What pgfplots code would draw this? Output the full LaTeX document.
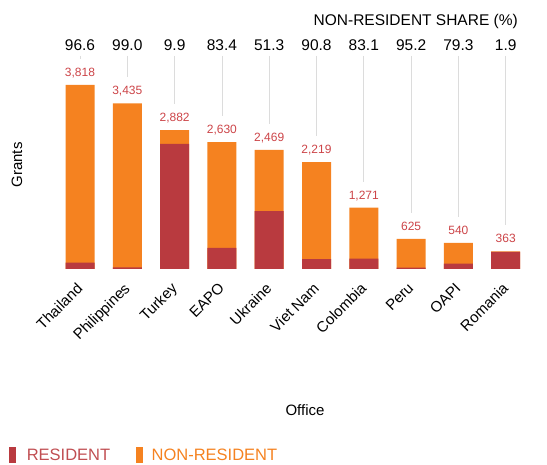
\documentclass[border=0pt]{standalone}
\usepackage{pgfplots}
\pgfplotsset{compat=1.18}
\usepackage{pgfplotstable}
\usepackage{fontspec}
\setmainfont{Liberation Sans}
\definecolor{cres}{RGB}{185,58,63}
\definecolor{cnon}{RGB}{245,130,32}
\definecolor{clab}{RGB}{204,68,72}
\definecolor{cline}{RGB}{220,220,220}

\pgfplotstableread{
x total resident totlab share
0 3818 130 3,818 96.6
1 3435 34 3,435 99.0
2 2882 2597 2,882 9.9
3 2630 437 2,630 83.4
4 2469 1202 2,469 51.3
5 2219 204 2,219 90.8
6 1271 215 1,271 83.1
7 625 30 625 95.2
8 540 112 540 79.3
9 363 356 363 1.9
}\datatable

\begin{document}
\begin{tikzpicture}
\begin{axis}[
  at={(80pt,196pt)}, anchor=origin,
  scale only axis, width=473pt, height=241pt,
  xmin=-0.5, xmax=9.5, ymin=0, ymax=5000,
  clip=false,
  axis line style={draw=none},
  major tick length=0pt,
  ytick=\empty,
  xtick={0,...,9},
  xticklabels={Thailand,Philippines,Turkey,EAPO,Ukraine,{Viet Nam},Colombia,Peru,OAPI,Romania},
  xticklabel style={rotate=45, anchor=north east, inner sep=1pt, yshift=-5pt, xshift=-11pt, font=\fontsize{15}{18}\selectfont},
  legend style={at={(-0.106,-0.772)}, anchor=west, draw=none, fill=none,
    legend columns=2, font=\fontsize{16.5}{19}\selectfont,
    /tikz/every even column/.append style={column sep=24pt},
    legend cell align=left},
]
\addlegendimage{legend image code/.code={\fill[cres] (0pt,-7.5pt) rectangle (6pt,7.5pt);}}
\addlegendentry{\hspace*{9pt}\textcolor{cres!90!white}{RESIDENT}}
\addlegendimage{legend image code/.code={\fill[cnon] (0pt,-7.5pt) rectangle (6pt,7.5pt);}}
\addlegendentry{\hspace*{7pt}\textcolor{cnon}{NON-RESIDENT}}

% connector lines
\addplot[cline, line width=0.8pt, unbounded coords=jump, forget plot] coordinates {
(0,4420) (0,4358) (0,nan)
(1,4420) (1,3975) (1,nan)
(2,4420) (2,3422) (2,nan)
(3,4420) (3,3170) (3,nan)
(4,4420) (4,3009) (4,nan)
(5,4420) (5,2759) (5,nan)
(6,4420) (6,1811) (6,nan)
(7,4420) (7,1165) (7,nan)
(8,4420) (8,1080) (8,nan)
(9,4420) (9,903)
};

% total (non-resident on top)
\addplot[ybar, bar width=29pt, bar shift=0pt, fill=cnon, draw=none, forget plot,
  point meta=explicit symbolic, nodes near coords,
  nodes near coords align={anchor=base},
  every node near coord/.append style={text=clab, inner sep=0pt, yshift=8.5pt, font=\fontsize{12}{14}\selectfont}]
  table[x=x, y=total, meta=totlab] {\datatable};
% resident
\addplot[ybar, bar width=29pt, bar shift=0pt, fill=cres, draw=none, forget plot]
  table[x=x, y=resident] {\datatable};

% share numbers
\addplot[draw=none, mark=none, forget plot,
  point meta=explicit symbolic, nodes near coords,
  nodes near coords align={anchor=base},
  every node near coord/.append style={text=black, inner sep=0pt, font=\fontsize{15.5}{18}\selectfont}]
  table[x=x, y expr=4535, meta=share] {\datatable};
\end{axis}
\node[anchor=base east, inner sep=0pt, font=\fontsize{15.5}{18}\selectfont] at (518pt,439.8pt) {NON-RESIDENT SHARE (\%)};
\node[rotate=90, inner sep=0pt, font=\fontsize{15}{18}\selectfont] at (17pt,300pt) {Grants};
\node[inner sep=0pt, font=\fontsize{15}{18}\selectfont] at (305pt,55pt) {Office};
\pgfresetboundingbox
\path (0pt,0pt) rectangle (547pt,465pt);
\end{tikzpicture}
\end{document}
